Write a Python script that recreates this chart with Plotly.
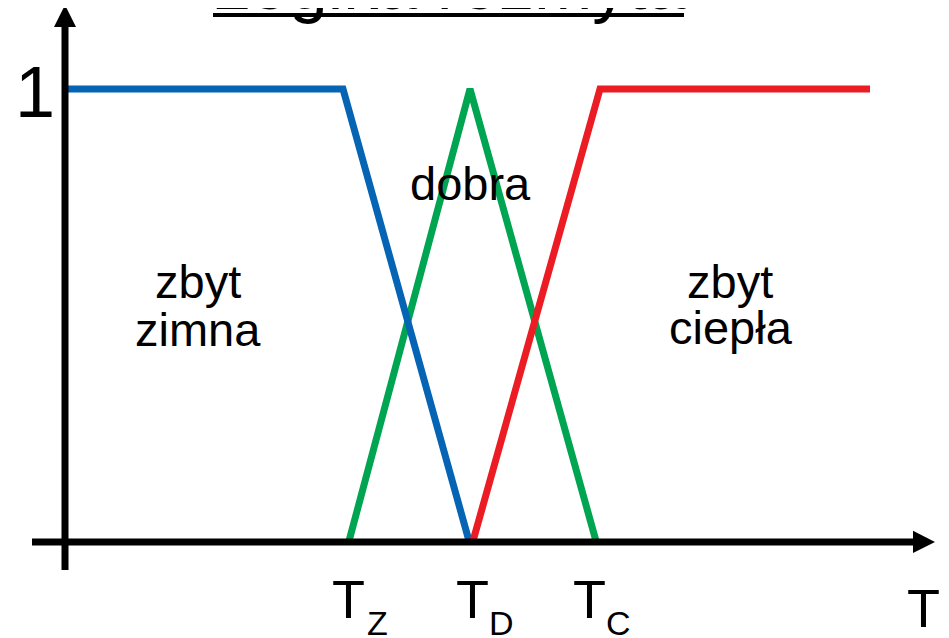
import plotly.graph_objects as go

# ---- data (T in arbitrary units, membership 0..1) ----
T_Z, T_D, T_C = 28.4, 40.5, 53.1
cold_x = [0.3, 27.8, 40.4]
cold_y = [1, 1, 0]
good_x = [28.4, 40.5, 53.1]
good_y = [0, 1, 0]
warm_x = [40.8, 53.5, 80.5]
warm_y = [0, 1, 1]
tick_letters = ["Z", "D", "C"]
tick_vals = [T_Z, T_D, T_C]

FONT = "Arial, Liberation Sans, sans-serif"
BLUE, GREEN, RED = "#0564B4", "#00A551", "#EC1C24"

OFF = 8                       # page body margin
W, H = 949 - OFF, 638 - OFF
X0PX, XSCALE = 65 - OFF, 10.0     # pixel of T=0, pixels per unit
Y0PX, YSCALE = 541 - OFF, 452.0   # pixel of mu=0, pixels per unit

fig = go.Figure()
for xs, ys, c in [(good_x, good_y, GREEN), (cold_x, cold_y, BLUE), (warm_x, warm_y, RED)]:
    fig.add_trace(go.Scatter(x=xs, y=ys, mode="lines",
                             line=dict(color=c, width=7), hoverinfo="skip"))

shapes = []
# y axis with arrow
shapes.append(dict(type="line", xref="x", yref="y", x0=0, x1=0, y0=-0.064, y1=1.14,
                   line=dict(color="black", width=7)))
shapes.append(dict(type="path", xref="x", yref="y",
                   path="M -1.1,1.137 L 1.1,1.137 L 0,1.186 Z",
                   fillcolor="black", line=dict(color="black", width=0)))
# x axis with arrow
shapes.append(dict(type="line", xref="x", yref="y", x0=-3.3, x1=85.0, y0=-0.002, y1=-0.002,
                   line=dict(color="black", width=7)))
shapes.append(dict(type="path", xref="x", yref="y",
                   path="M 84.8,0.0225 L 84.8,-0.0265 L 87.0,-0.002 Z",
                   fillcolor="black", line=dict(color="black", width=0)))
# title underline
shapes.append(dict(type="line", xref="paper", yref="paper",
                   x0=(213 - OFF) / W, x1=(684 - OFF) / W,
                   y0=1 - (15 - OFF) / H, y1=1 - (15 - OFF) / H,
                   line=dict(color="black", width=4)))

ann = []
def txt(x, y, s, size, xref="x", yref="y", xshift=0, yshift=0):
    ann.append(dict(x=x, y=y, xref=xref, yref=yref, text=s, showarrow=False,
                    xanchor="center", yanchor="middle", xshift=xshift, yshift=yshift,
                    font=dict(family=FONT, size=size, color="black")))

txt((448 - OFF) / W, 1 + (15.3 + OFF) / H, "Logika rozmyta", 70, xref="paper", yref="paper")
txt(-3.0, 1, "1", 72, yshift=-3)
txt(40.5, 0.7905, "dobra", 47)
txt(13.3, 0.5737, "zbyt", 47)
txt(13.3, 0.4675, "zimna", 47)
txt(66.5, 0.5737, "zbyt", 47)
txt(66.6, 0.4719, "ciepła", 47)
t_shift = [-1, 2, -7]
for v, letter, sh in zip(tick_vals, tick_letters, t_shift):
    txt(v, -0.129, "T", 54, xshift=sh)
    txt(v, -0.1819, letter, 34, xshift=sh + 29)
txt(85.8, -0.149, "T", 54)

fig.update_layout(
    width=W, height=H, margin=dict(l=0, r=0, t=0, b=0),
    paper_bgcolor="white", plot_bgcolor="white", showlegend=False,
    xaxis=dict(range=[(0 - X0PX) / XSCALE, (W - X0PX) / XSCALE], visible=False, fixedrange=True),
    yaxis=dict(range=[(Y0PX - H) / YSCALE, Y0PX / YSCALE], visible=False, fixedrange=True),
    shapes=shapes, annotations=ann,
)
fig.write_html("out.html")
